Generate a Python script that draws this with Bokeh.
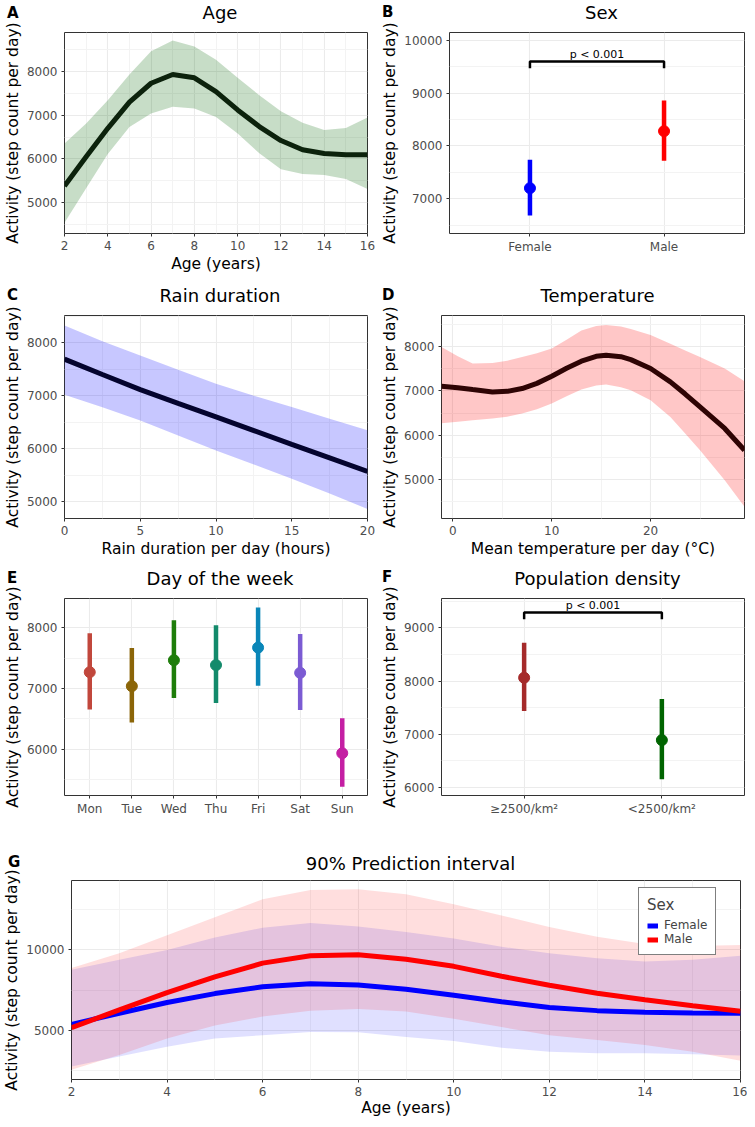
import numpy as np
from bokeh.plotting import figure
from bokeh.models import FixedTicker, Range1d, Legend, LegendItem, Div, GridBox
from bokeh.layouts import column, row
from bokeh.embed import file_html
from bokeh.resources import INLINE
from bokeh.core.properties import value

FONT = "DejaVu Sans"
YLAB = "Activity (step count per day)"

# ---------------- data ----------------
# A: Age
age = list(range(2, 17))
age_fit = [5380, 6050, 6700, 7300, 7730, 7930, 7855, 7540, 7120, 6740, 6420, 6210, 6125, 6095, 6095]
age_lo = [4540, 5330, 6110, 6730, 7040, 7190, 7150, 6960, 6580, 6130, 5765, 5655, 5635, 5540, 5310]
age_hi = [6355, 6810, 7340, 7930, 8460, 8705, 8570, 8265, 7855, 7455, 7090, 6825, 6660, 6705, 6945]

# B: Sex
sex_cats = ["Female", "Male"]
sex_est = [7200, 8280]
sex_lo = [6680, 7720]
sex_hi = [7740, 8860]
sex_colors = ["#0000ff", "#ff0000"]
sex_p_text = "p < 0.001"
sex_p_y = [9600, 9470]

# C: Rain duration
rain = [0, 2.5, 5, 7.5, 10, 12.5, 15, 17.5, 20]
rain_fit = [7690, 7400, 7115, 6855, 6600, 6340, 6080, 5825, 5570]
rain_lo = [7020, 6780, 6530, 6250, 5965, 5700, 5430, 5150, 4860]
rain_hi = [8325, 8030, 7760, 7490, 7225, 7000, 6785, 6565, 6345]

# D: Temperature
temp = [-1.15, 0.5, 2, 4, 5.5, 7, 8.5, 10, 11.5, 13, 14.5, 15.5, 17, 18, 20, 22, 23.5, 25, 27.5, 29.5]
temp_fit = [7105, 7070, 7030, 6978, 6990, 7053, 7170, 7330, 7510, 7670, 7780, 7805, 7770, 7705,
            7505, 7205, 6930, 6640, 6155, 5665]
temp_lo = [6270, 6305, 6340, 6380, 6420, 6490, 6590, 6715, 6880, 7030, 7120, 7145, 7080, 7015,
           6790, 6415, 6040, 5665, 4990, 4390]
temp_hi = [7990, 7780, 7615, 7630, 7680, 7765, 7850, 7955, 8150, 8360, 8460, 8485, 8450, 8395,
           8260, 8060, 7910, 7765, 7505, 7220]

# E: Day of week
days = ["Mon", "Tue", "Wed", "Thu", "Fri", "Sat", "Sun"]
day_est = [7267, 7037, 7464, 7384, 7672, 7256, 5933]
day_lo = [6653, 6440, 6840, 6760, 7043, 6643, 5379]
day_hi = [7907, 7667, 8120, 8040, 8333, 7896, 6509]
day_colors = ["#c1473c", "#8b6508", "#1e7d0a", "#138a6b", "#0a86b8", "#7b5bd3", "#c41fa3"]

# F: Population density
dens_cats = ["\u22652500/km\u00b2", "<2500/km\u00b2"]
dens_est = [8062, 6887]
dens_lo = [7434, 6151]
dens_hi = [8723, 7660]
dens_colors = ["#a52a2a", "#006400"]
dens_p_text = "p < 0.001"
dens_p_y = [9290, 9165]

# G: 90% prediction interval
g_age = list(range(2, 17))
g_f_fit = [5370, 6060, 6730, 7285, 7710, 7895, 7815, 7550, 7185, 6775, 6425, 6225, 6120, 6085, 6060]
g_m_fit = [5165, 6270, 7345, 8325, 9180, 9635, 9695, 9425, 8980, 8365, 7800, 7305, 6900, 6530, 6180]
g_f_lo = [2755, 3370, 3980, 4490, 4695, 4900, 4880, 4590, 4330, 3920, 3670, 3570, 3570, 3510, 3430]
g_f_hi = [8775, 9390, 10000, 10775, 11385, 11670, 11465, 11120, 10710, 10200, 9790, 9485, 9285, 9390, 9635]
g_m_lo = [2550, 3470, 4490, 5305, 5855, 6225, 6330, 6165, 5715, 5200, 4695, 4390, 4080, 3670, 3100]
g_m_hi = [8875, 9790, 10920, 12040, 13160, 13735, 13770, 13465, 12850, 12140, 11425, 10815, 10365, 10245, 10305]
g_labels = ["Female", "Male"]
g_colors = ["#0000ff", "#ff0000"]

panel_letters = ["A", "B", "C", "D", "E", "F", "G"]
panel_titles = ["Age", "Sex", "Rain duration", "Temperature", "Day of the week",
                "Population density", "90% Prediction interval"]


# ---------------- helpers ----------------
def make_fig(w, h, xr, yr, bl, br, bt, bb, xlabel, xticks, xminor, yticks, yminor):
    p = figure(width=w, height=h, x_range=Range1d(*xr), y_range=Range1d(*yr),
               output_backend="svg", toolbar_location=None,
               min_border_left=bl, min_border_right=br, min_border_top=bt, min_border_bottom=bb)
    p.outline_line_color = "#333333"
    p.outline_line_width = 1
    p.outline_line_alpha = 1
    p.background_fill_color = "white"
    p.border_fill_color = "white"
    xt = FixedTicker(ticks=xticks, minor_ticks=xminor)
    yt = FixedTicker(ticks=yticks, minor_ticks=yminor)
    p.xaxis.ticker = xt
    p.yaxis.ticker = yt
    p.xgrid.ticker = xt
    p.ygrid.ticker = yt
    for ax in (p.xaxis[0], p.yaxis[0]):
        ax.axis_line_color = None
        ax.major_tick_line_color = "#333333"
        ax.major_tick_out = 3
        ax.major_tick_in = 0
        ax.minor_tick_line_color = None
        ax.major_label_text_font = FONT
        ax.major_label_text_font_size = "12px"
        ax.major_label_text_color = "#4d4d4d"
        ax.major_label_standoff = 3
        ax.axis_label_text_font = FONT
        ax.axis_label_text_font_size = "15.5px"
        ax.axis_label_text_font_style = "normal"
        ax.axis_label_text_color = "black"
        ax.axis_label_standoff = 2
    p.yaxis.axis_label = YLAB
    if xlabel:
        p.xaxis.axis_label = xlabel
    for g in (p.xgrid[0], p.ygrid[0]):
        g.grid_line_color = "#ebebeb"
        g.grid_line_width = 1.1
        g.minor_grid_line_color = "#f3f3f3"
        g.minor_grid_line_width = 1
    return p


def pointrange(p, cats, est, lo, hi, colors):
    xs = list(range(1, len(cats) + 1))
    p.segment(x0=xs, y0=lo, x1=xs, y1=hi, line_color=colors, line_width=4.5)
    p.scatter(x=xs, y=est, size=11, fill_color=colors, line_color=colors)
    p.xaxis.major_label_overrides = {x: c for x, c in zip(xs, cats)}
    p.xgrid.minor_grid_line_color = None


def bracket(p, ys, text):
    top, tip = ys
    p.line(x=[1, 1, 2, 2], y=[tip, top, top, tip], line_color="black", line_width=2.5)
    p.text(x=[1.5], y=[top], text=[text], text_font=value(FONT), text_font_size=value("11px"),
           text_align="center", text_baseline="bottom", y_offset=-1, text_color="black")


# ---------------- panel A ----------------
pA = make_fig(376, 285, (2, 16), (4295, 8890), 63, 9, 32, 52, "Age (years)",
              list(range(2, 17, 2)), list(range(3, 16, 2)),
              [5000, 6000, 7000, 8000], [4500, 5500, 6500, 7500, 8500])
pA.varea(x=age, y1=age_lo, y2=age_hi, fill_color="#006400", fill_alpha=0.22)
pA.line(x=age, y=age_fit, line_color="#0c220c", line_width=5)

# ---------------- panel B ----------------
pB = make_fig(371, 285, (0.4, 2.6), (6340, 10150), 73, 3, 32, 52, None,
              [1, 2], [], [7000, 8000, 9000, 10000], [6500, 7500, 8500, 9500])
pointrange(pB, sex_cats, sex_est, sex_lo, sex_hi, sex_colors)
bracket(pB, sex_p_y, sex_p_text)

# ---------------- panel C ----------------
pC = make_fig(376, 285, (0, 20), (4680, 8515), 63, 9, 30, 52,
              "Rain duration per day (hours)",
              [0, 5, 10, 15, 20], [2.5, 7.5, 12.5, 17.5],
              [5000, 6000, 7000, 8000], [5500, 6500, 7500, 8500])
pC.varea(x=rain, y1=rain_lo, y2=rain_hi, fill_color="#0000ff", fill_alpha=0.22)
pC.line(x=rain, y=rain_fit, line_color="#04042e", line_width=5)

# ---------------- panel D ----------------
pD = make_fig(371, 285, (-1.15, 29.5), (4128, 8698), 65, 3, 30, 52,
              "Mean temperature per day (\u00b0C)",
              [0, 10, 20], [5, 15, 25],
              [5000, 6000, 7000, 8000], [4500, 5500, 6500, 7500, 8500])
pD.varea(x=temp, y1=temp_lo, y2=temp_hi, fill_color="#ff0000", fill_alpha=0.22)
pD.line(x=temp, y=temp_fit, line_color="#2e0404", line_width=5)

# ---------------- panel E ----------------
pE = make_fig(376, 282, (0.4, 7.6), (5237, 8480), 63, 9, 28, 51, None,
              list(range(1, 8)), [], [6000, 7000, 8000], [5500, 6500, 7500])
pointrange(pE, days, day_est, day_lo, day_hi, day_colors)

# ---------------- panel F ----------------
pF = make_fig(371, 282, (0.4, 2.6), (5843, 9555), 65, 3, 28, 57, None,
              [1, 2], [], [6000, 7000, 8000, 9000], [6500, 7500, 8500, 9500])
pointrange(pF, dens_cats, dens_est, dens_lo, dens_hi, dens_colors)
bracket(pF, dens_p_y, dens_p_text)

# ---------------- panel G ----------------
pG = make_fig(747, 267, (2, 16), (1940, 14321), 71, 7, 28, 40,
              "Age (years)", list(range(2, 17, 2)), list(range(3, 16, 2)),
              [5000, 10000], [2500, 7500, 12500])
pG.xaxis.axis_label_standoff = 0
pG.varea(x=g_age, y1=g_f_lo, y2=g_f_hi, fill_color=g_colors[0], fill_alpha=0.12)
pG.varea(x=g_age, y1=g_m_lo, y2=g_m_hi, fill_color=g_colors[1], fill_alpha=0.13)
rf = pG.line(x=g_age, y=g_f_fit, line_color=g_colors[0], line_width=5)
rm = pG.line(x=g_age, y=g_m_fit, line_color=g_colors[1], line_width=5)
legend = Legend(items=[LegendItem(label=g_labels[0], renderers=[rf]),
                       LegendItem(label=g_labels[1], renderers=[rm])],
                location=(567, 124), title="Sex")
legend.title_text_font = FONT
legend.title_text_font_size = "15px"
legend.title_text_font_style = "normal"
legend.title_standoff = 4
legend.label_text_font = FONT
legend.label_text_font_size = "12px"
legend.label_height = 13
legend.glyph_height = 13
legend.glyph_width = 11
legend.label_standoff = 6
legend.spacing = 0
legend.padding = 8
legend.margin = 0
legend.border_line_color = "black"
legend.border_line_width = 1.3
legend.background_fill_color = "white"
legend.background_fill_alpha = 1
pG.add_layout(legend)

main = column(row(pA, pB), row(pC, pD), row(pE, pF), pG)

# panel letters and titles as an overlay (page positions, px)
letter_pos = [(2, 1), (377, 0), (2, 283), (377, 283), (2, 566), (377, 565), (3, 850)]
title_pos = [(215, -1), (596.5, -1), (215, 282), (592.5, 282), (215, 565), (592.5, 565),
             (405.5, 850)]
spans = "".join(
    '<span style="position:absolute;left:%dpx;top:%dpx;font-weight:bold;font-size:15px;'
    'line-height:15px;color:black;white-space:nowrap;">%s</span>' % (x, y, t)
    for t, (x, y) in zip(panel_letters, letter_pos))
spans += "".join(
    '<span style="position:absolute;left:%.1fpx;top:%dpx;font-size:18px;line-height:18px;'
    'color:black;white-space:nowrap;transform:translateX(-50%%);">%s</span>' % (x, y, t)
    for t, (x, y) in zip(panel_titles, title_pos))
overlay = Div(text='<div style="position:relative;width:747px;height:1119px;'
                   'font-family:\'DejaVu Sans\';pointer-events:none;">' + spans + '</div>',
              width=747, height=1119)

layout = GridBox(children=[(main, 0, 0), (overlay, 0, 0)])

with open("out.html", "w") as f:
    f.write(file_html(layout, INLINE))
